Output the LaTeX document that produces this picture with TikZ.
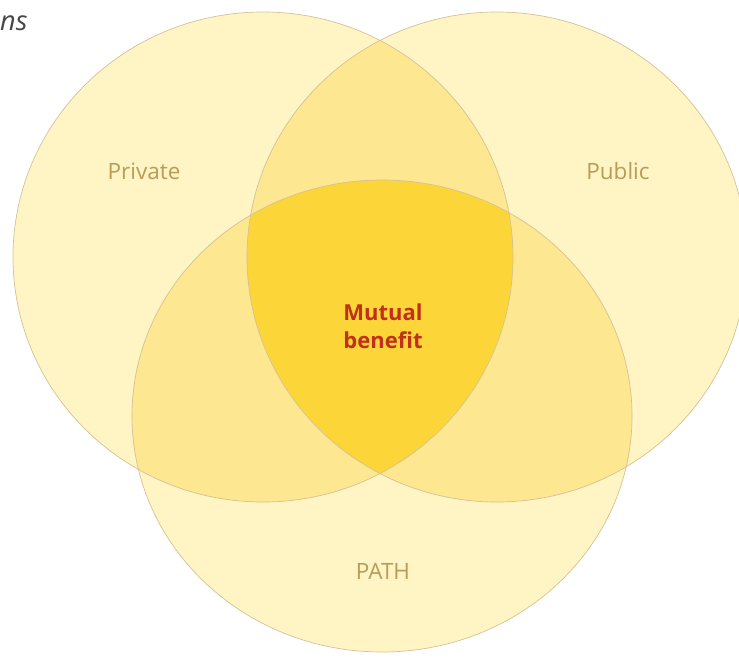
\documentclass[tikz,border=0pt]{standalone}
\usepackage{fontspec}
\setmainfont{Open Sans}
\begin{document}
\begin{tikzpicture}[x=1pt,y=-1pt,
  single/.style={fill=setone},
  pair/.style={fill=settwo},
  rim/.style={draw=rimcol,line width=0.7pt},
  setlabel/.style={text=labelcol,font=\fontsize{22.5}{26}\selectfont},
  corelabel/.style={text=corecol,font=\bfseries\fontsize{22}{28}\selectfont,align=center}]
\definecolor{setone}{RGB}{254,244,196}
\definecolor{settwo}{RGB}{253,231,144}
\definecolor{setthree}{RGB}{252,214,56}
\definecolor{rimcol}{RGB}{212,194,150}
\definecolor{labelcol}{RGB}{184,156,88}
\definecolor{corecol}{RGB}{192,48,26}
\definecolor{headcol}{RGB}{70,70,70}
\useasboundingbox (0,0) rectangle (739,666);
\clip (0,0) rectangle (739,666);
% set centres
\coordinate (cL) at (263,257);
\coordinate (cR) at (497,257);
\coordinate (cB) at (382,416);
\def\shapeL{(cL) ellipse [x radius=250pt, y radius=245pt]}
\def\shapeR{(cR) ellipse [x radius=250pt, y radius=245pt]}
\def\shapeB{(cB) ellipse [x radius=250pt, y radius=236pt]}
% single sets
\fill[single] \shapeL;
\fill[single] \shapeR;
\fill[single] \shapeB;
% pairwise overlaps
\begin{scope}\clip \shapeL; \fill[pair] \shapeR; \fill[pair] \shapeB; \end{scope}
\begin{scope}\clip \shapeR; \fill[pair] \shapeB; \end{scope}
% triple overlap
\begin{scope}\clip \shapeL; \clip \shapeR; \fill[setthree] \shapeB; \end{scope}
% outlines
\draw[rim] \shapeL;
\draw[rim] \shapeR;
\draw[rim] \shapeB;
% labels
\node[setlabel] (private) at (144,171) {Private};
\node[setlabel] (public) at (618,171) {Public};
\node[setlabel] (path) at (383,571) {PATH};
\node[corelabel] (core) at (383,326) {Mutual\\benefit};
\node[anchor=base west,inner sep=0pt,text=headcol,font=\itshape\fontsize{27}{30}\selectfont] (head) at (0,31) {ns};
\end{tikzpicture}
\end{document}
